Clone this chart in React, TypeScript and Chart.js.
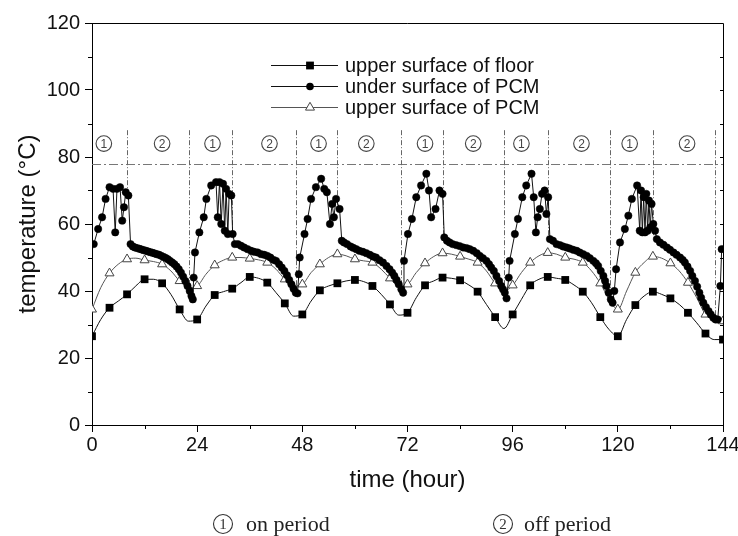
import React, { useEffect, useRef } from "react";
import { Chart, registerables } from "chart.js";

Chart.register(...registerables);

// ---------- data ----------
const xTickValues = [0, 24, 48, 72, 96, 120, 144];
const yTickValues = [0, 20, 40, 60, 80, 100, 120];
const xMinorTicks = [12, 36, 60, 84, 108, 132];
const yMinorTicks = [10, 30, 50, 70, 90, 110];

const sampleHours = [
  0, 2, 4, 6, 8, 10, 12, 14, 16, 18, 20, 22, 24, 26, 28, 30, 32, 34, 36, 38, 40, 42, 44, 46, 48,
  50, 52, 54, 56, 58, 60, 62, 64, 66, 68, 70, 72, 74, 76, 78, 80, 82, 84, 86, 88, 90, 92, 94, 96,
  98, 100, 102, 104, 106, 108, 110, 112, 114, 116, 118, 120, 122, 124, 126, 128, 130, 132, 134,
  136, 138, 140, 142, 144,
];

const floorTemps = [
  26.5, 31.5, 35, 37, 39, 41.5, 43.5, 43.5, 42.3, 39, 34.5, 31, 31.5, 35.5, 38.8, 39.8, 40.7, 42.5,
  44.2, 43.8, 42.5, 39.5, 36.3, 32.5, 33, 37, 40.2, 41.5, 42.3, 43, 43.3, 42.8, 41.5, 39, 36, 32.8,
  33.5, 38, 41.7, 43, 44, 43.8, 43.2, 41.8, 39.8, 36, 32.2, 28.8, 33, 37.5, 41.7, 43.5, 44.2, 43.8,
  43.3, 41.8, 39.8, 36.5, 32.2, 28.5, 26.5, 31.5, 35.8, 38.5, 39.8, 39, 37.8, 36, 33.5, 30.5, 27.3,
  25.5, 25.5,
];

const upperPcmTemps = [
  34.5, 41, 45.3, 48, 49.5, 49.8, 49.2, 48.8, 48, 46, 43, 41, 41.5, 45, 47.7, 49.2, 50, 50, 49.7,
  49.3, 48.5, 46.5, 43.5, 41.5, 42, 45.5, 48, 50, 51, 50.5, 49.5, 49, 48.5, 46.5, 43.8, 41.5, 42,
  45.5, 48.3, 50.3, 51.3, 51, 50.3, 49.5, 48.5, 46, 42.3, 40, 41.7, 45.5, 48.5, 50.5, 51.4, 51, 50,
  49.5, 48.5, 46, 42.3, 37.5, 34.5, 40, 45.5, 48.5, 50.3, 49.8, 48.3, 46, 42.5, 38, 33, 31.5, 31,
];

// under surface of PCM: [hour, temperature] per heating cycle
const underPcmCycle1: [number, number][] = [
  [0.4, 54], [1.4, 58.5], [2.3, 62], [3.1, 67.5], [4.0, 71], [4.8, 70.5], [5.3, 57.5], [5.7, 70.5],
  [6.4, 71], [6.9, 61], [7.3, 65], [7.7, 69.5], [8.3, 68.5], [8.8, 54],
  [9.3, 53.3], [9.8, 53], [10.3, 52.8], [10.8, 52.6], [11.3, 52.4], [11.8, 52.2], [12.3, 52],
  [12.8, 51.8], [13.3, 51.6], [13.8, 51.4], [14.3, 51.2], [14.8, 51], [15.3, 50.8], [15.8, 50.5],
  [16.3, 50.2], [16.8, 49.9], [17.3, 49.5], [17.8, 49], [18.3, 48.5], [18.8, 48], [19.3, 47.3],
  [19.8, 46.5], [20.3, 45.5], [20.8, 44.3], [21.3, 43], [21.8, 41.5], [22.3, 40], [22.7, 38.5],
  [23.0, 37.5],
];
const underPcmCycle2: [number, number][] = [
  [23.2, 44], [23.5, 51.5], [24.5, 57.5], [25.5, 62], [26.1, 67.5], [27.2, 71.5], [28.3, 72.5],
  [28.7, 62], [29.1, 72.5], [29.5, 60], [29.9, 72], [30.3, 58], [30.6, 70.5], [31.0, 57],
  [31.3, 69], [31.8, 68.5], [32.1, 57], [32.6, 54],
  [33.3, 54], [34.0, 53.5], [34.7, 53], [35.5, 52.5], [36.3, 52], [37.0, 51.7], [37.8, 51.5],
  [38.6, 51], [39.3, 50.8], [40.0, 50.5], [40.7, 50], [41.4, 49.3], [42.0, 49], [42.7, 48],
  [43.3, 47], [43.9, 46], [44.5, 44.7], [45.0, 43.3], [45.5, 42], [46.0, 40.7], [46.5, 39.5],
  [46.9, 39.3],
];
const underPcmCycle3: [number, number][] = [
  [47.2, 45], [47.4, 50], [48.5, 57], [49.2, 61.5], [50.0, 67.5], [51.1, 71], [52.3, 73.5],
  [53.0, 70.5], [53.6, 69.5], [54.3, 60], [54.8, 66], [55.2, 62], [55.7, 67.5], [56.5, 64.5],
  [57.0, 55],
  [57.5, 54.5], [58.2, 54], [59.0, 53.3], [59.6, 52.9], [60.3, 52.5], [61.0, 52], [61.8, 51.7],
  [62.6, 51.3], [63.4, 50.8], [64.1, 50.3], [64.8, 50], [65.6, 49.2], [66.4, 48.5], [67.2, 47.5],
  [67.9, 46.5], [68.5, 45.5], [69.0, 44.5], [69.5, 43.3], [70.0, 42], [70.6, 40.5], [71.0, 39.5],
];
const underPcmCycle4: [number, number][] = [
  [71.2, 49], [72.1, 57], [73.0, 61.5], [74.0, 68], [75.1, 71.5], [76.3, 75], [76.9, 70],
  [77.4, 62], [78.4, 64.5], [79.3, 70], [80.0, 69], [80.4, 56],
  [81.0, 55], [81.6, 54.5], [82.3, 54], [83.1, 53.7], [83.9, 53.4], [84.7, 53], [85.5, 52.8],
  [86.2, 52.5], [87.0, 52], [87.8, 51.3], [88.5, 50.5], [89.2, 49.8], [90.0, 49], [90.6, 48],
  [91.1, 47], [91.7, 46], [92.3, 44.5], [92.9, 43], [93.4, 41.5], [93.8, 40.5], [94.2, 39.5],
  [94.6, 37.8],
];
const underPcmCycle5: [number, number][] = [
  [95.1, 44], [95.3, 49], [96.5, 57], [97.2, 61.5], [98.2, 68], [99.1, 71.5], [100.3, 75],
  [100.8, 68], [101.3, 57.5], [101.7, 62], [102.2, 64.5], [102.7, 69], [103.3, 70], [103.7, 63],
  [104.1, 68], [104.5, 55.5],
  [105.2, 55], [106.0, 54], [106.8, 53.7], [107.5, 53.3], [108.3, 53], [109.0, 52.7],
  [109.8, 52.3], [110.6, 52], [111.3, 51.5], [112.1, 51], [112.9, 50.5], [113.6, 49.8],
  [114.4, 49], [115.0, 48.3], [115.5, 47.5], [116.1, 46], [116.7, 44.5], [117.1, 43],
  [117.4, 41.5], [117.9, 39.5], [118.4, 37.5], [118.8, 36.5],
];
const underPcmCycle6: [number, number][] = [
  [119.2, 40], [119.6, 46.5], [120.5, 54.5], [121.6, 58.5], [122.4, 62.5], [123.2, 67.5],
  [124.4, 71.5], [125.0, 58], [125.3, 70], [125.6, 57.5], [125.9, 68], [126.2, 57.5], [126.5, 69],
  [126.8, 58], [127.1, 67], [127.4, 59], [127.7, 66], [128.1, 60], [128.5, 58], [128.9, 55.5],
  [129.6, 54.5], [130.4, 53.8], [131.2, 53], [131.9, 52.3], [132.7, 51.5], [133.4, 50.8],
  [134.2, 50], [134.8, 49.3], [135.3, 48.5], [135.9, 47.3], [136.5, 46], [137.0, 44.5],
  [137.6, 43], [138.1, 41.3], [138.6, 39.5], [139.0, 38], [139.5, 36.5], [140.1, 35.2],
  [140.7, 34], [141.2, 33], [141.8, 32], [142.3, 31.5], [142.8, 31.5], [143.4, 41.5],
  [143.7, 52.5],
];

// on/off period boundaries: [hour, lower end temperature]
const periodBoundaries: [number, number][] = [
  [8, 69], [22.2, 38], [32, 57], [46.5, 40], [56, 64], [70.5, 40], [80, 56], [94, 38],
  [104, 55], [118.2, 37], [128, 56], [142.2, 32],
];
const periodLabelHours = [2.7, 16, 27.5, 40.5, 51.7, 62.6, 76, 87, 98, 111.7, 122.7, 135.8];
const periodLabelDigits = ["1", "2", "1", "2", "1", "2", "1", "2", "1", "2", "1", "2"];
const setPointTemp = 78;
const periodLabelTemp = 84;
const periodLineTopTemp = 88;

const seriesNames = ["upper surface of floor", "under surface of PCM", "upper surface of PCM"];
const noteTexts = ["on period", "off period"];
const noteDigits = ["1", "2"];

// ---------- styles ----------
const SANS = "'Liberation Sans', Arial, Helvetica, sans-serif";
const SERIF = "'Liberation Serif', 'Times New Roman', serif";
const INK = "#111";

function drawMarker(ctx: CanvasRenderingContext2D, kind: string, x: number, y: number) {
  ctx.save();
  ctx.setLineDash([]);
  if (kind === "rect") {
    ctx.fillStyle = "#000";
    ctx.fillRect(x - 3.9, y - 3.9, 7.8, 7.8);
  } else if (kind === "circle") {
    ctx.fillStyle = "#000";
    ctx.beginPath();
    ctx.arc(x, y, 3.8, 0, Math.PI * 2);
    ctx.fill();
  } else {
    const r = 5.2;
    ctx.fillStyle = "#fff";
    ctx.strokeStyle = "#444";
    ctx.lineWidth = 1;
    ctx.beginPath();
    ctx.moveTo(x, y - r);
    ctx.lineTo(x + r * 0.866, y + r * 0.5);
    ctx.lineTo(x - r * 0.866, y + r * 0.5);
    ctx.closePath();
    ctx.fill();
    ctx.stroke();
  }
  ctx.restore();
}

function drawCircled(
  ctx: CanvasRenderingContext2D,
  x: number,
  y: number,
  r: number,
  digit: string,
  font: string,
  color: string
) {
  ctx.save();
  ctx.setLineDash([]);
  ctx.strokeStyle = color;
  ctx.fillStyle = color;
  ctx.lineWidth = 1.1;
  ctx.beginPath();
  ctx.arc(x, y, r, 0, Math.PI * 2);
  ctx.stroke();
  ctx.font = font;
  ctx.textAlign = "center";
  ctx.textBaseline = "middle";
  ctx.fillText(digit, x, y + 1);
  ctx.restore();
}

const decorPlugin = {
  id: "decor",
  beforeDatasetsDraw(chart: any) {
    const { ctx, chartArea, scales } = chart;
    const xs = scales.x;
    const ys = scales.y;
    ctx.save();
    // set point dash-dot line
    ctx.strokeStyle = "#777";
    ctx.lineWidth = 1;
    ctx.setLineDash([9, 3, 2, 3]);
    const yS = Math.round(ys.getPixelForValue(setPointTemp)) + 0.5;
    ctx.beginPath();
    ctx.moveTo(chartArea.left, yS);
    ctx.lineTo(chartArea.right, yS);
    ctx.stroke();
    // period boundary lines
    ctx.strokeStyle = "#666";
    ctx.setLineDash([5, 2, 1, 2]);
    periodBoundaries.forEach(([h, low]) => {
      const px = Math.round(xs.getPixelForValue(h)) + 0.5;
      ctx.beginPath();
      ctx.moveTo(px, ys.getPixelForValue(periodLineTopTemp));
      ctx.lineTo(px, ys.getPixelForValue(low));
      ctx.stroke();
    });
    ctx.setLineDash([]);
    // circled period labels
    periodLabelHours.forEach((h, i) => {
      drawCircled(
        ctx,
        xs.getPixelForValue(h),
        ys.getPixelForValue(periodLabelTemp),
        7.8,
        periodLabelDigits[i],
        `12px ${SANS}`,
        "#444"
      );
    });
    ctx.restore();
  },
  afterDraw(chart: any) {
    const { ctx, chartArea, scales } = chart;
    const xs = scales.x;
    const ys = scales.y;
    const { left, right, top, bottom } = chartArea;
    ctx.save();
    ctx.strokeStyle = "#000";
    ctx.lineWidth = 1;
    ctx.setLineDash([]);
    // frame top + right
    ctx.beginPath();
    ctx.moveTo(left, top + 0.5);
    ctx.lineTo(right + 0.5, top + 0.5);
    ctx.lineTo(right + 0.5, bottom);
    ctx.stroke();
    // minor ticks
    ctx.beginPath();
    yMinorTicks.forEach((v) => {
      const py = Math.round(ys.getPixelForValue(v)) + 0.5;
      ctx.moveTo(left - 4, py);
      ctx.lineTo(left, py);
    });
    xMinorTicks.forEach((v) => {
      const px = Math.round(xs.getPixelForValue(v)) + 0.5;
      ctx.moveTo(px, bottom);
      ctx.lineTo(px, bottom + 4);
    });
    [...yMinorTicks, ...yTickValues].forEach((v) => {
      const py = Math.round(ys.getPixelForValue(v)) + 0.5;
      ctx.moveTo(right, py);
      ctx.lineTo(right - 3, py);
    });
    ctx.stroke();

    // legend
    const legendRows = [65, 86, 107];
    const kinds = ["rect", "circle", "triangle"];
    legendRows.forEach((y, i) => {
      ctx.strokeStyle = i === 2 ? "#555" : "#111";
      ctx.lineWidth = 1;
      ctx.beginPath();
      ctx.moveTo(271, y + 0.5);
      ctx.lineTo(338, y + 0.5);
      ctx.stroke();
      drawMarker(ctx, kinds[i], 310, y + 0.5);
      ctx.fillStyle = INK;
      ctx.font = `20px ${SANS}`;
      ctx.textAlign = "left";
      ctx.textBaseline = "middle";
      ctx.fillText(seriesNames[i], 345, y + 1);
    });

    // bottom notes
    const noteCircleX = [223, 503];
    const noteTextX = [246, 524];
    noteTexts.forEach((t, i) => {
      drawCircled(ctx, noteCircleX[i], 524, 9.5, noteDigits[i], `15px ${SERIF}`, "#333");
      ctx.fillStyle = "#222";
      ctx.textBaseline = "alphabetic";
      ctx.textAlign = "left";
      ctx.font = `22px ${SERIF}`;
      ctx.fillText(t, noteTextX[i], 531);
    });
    ctx.restore();
  },
};

export default function App() {
  const canvasRef = useRef<HTMLCanvasElement>(null);

  useEffect(() => {
    document.body.style.margin = "0";
    const canvas = canvasRef.current;
    if (!canvas) return;
    const toPts = (hours: number[], temps: number[]) => hours.map((h, i) => ({ x: h, y: temps[i] }));
    const underPcm = [
      ...underPcmCycle1,
      ...underPcmCycle2,
      ...underPcmCycle3,
      ...underPcmCycle4,
      ...underPcmCycle5,
      ...underPcmCycle6,
    ].map(([x, y]) => ({ x, y }));
    const every4 = (r: number) => (c: any) => (c.raw && c.raw.x % 4 === 0 ? r : 0);

    const chart = new Chart(canvas, {
      type: "line",
      data: {
        datasets: [
          {
            label: seriesNames[1],
            data: underPcm,
            borderColor: "#111",
            borderWidth: 1,
            pointStyle: "circle",
            pointRadius: 3.7,
            pointBackgroundColor: "#000",
            pointBorderColor: "#000",
            pointBorderWidth: 0.5,
            tension: 0,
            order: 0,
          },
          {
            label: seriesNames[0],
            data: toPts(sampleHours, floorTemps),
            borderColor: "#111",
            borderWidth: 1,
            pointStyle: "rect",
            pointRadius: every4(5.5),
            pointBackgroundColor: "#000",
            pointBorderColor: "#000",
            pointBorderWidth: 0,
            cubicInterpolationMode: "monotone",
            order: 1,
          },
          {
            label: seriesNames[2],
            data: toPts(sampleHours, upperPcmTemps),
            borderColor: "#555",
            borderWidth: 1,
            pointStyle: "triangle",
            pointRadius: every4(5.2),
            pointBackgroundColor: "#fff",
            pointBorderColor: "#444",
            pointBorderWidth: 1,
            cubicInterpolationMode: "monotone",
            order: 2,
          },
        ],
      },
      options: {
        responsive: false,
        devicePixelRatio: 1,
        animation: false,
        events: [],
        layout: { padding: { top: 23, right: 15, bottom: 0, left: 0 } },
        plugins: { legend: { display: false }, tooltip: { enabled: false }, title: { display: false } },
        scales: {
          x: {
            type: "linear",
            min: 0,
            max: 144,
            afterBuildTicks: (s: any) => {
              s.ticks = xTickValues.map((v) => ({ value: v }));
            },
            ticks: {
              autoSkip: false,
              maxRotation: 0,
              padding: 1,
              color: INK,
              font: { family: SANS, size: 20 },
              callback: (v: any) => String(v),
            },
            grid: { drawOnChartArea: false, tickLength: 7, color: "#000", tickColor: "#000" },
            border: { display: true, color: "#000", width: 1 },
            title: {
              display: true,
              text: "time (hour)",
              color: INK,
              font: { family: SANS, size: 24 },
              padding: { top: 0, bottom: 41.6 },
            },
            afterFit: (s: any) => {
              s.height = 111;
              s.paddingRight = 15;
              s.paddingLeft = 0;
            },
          },
          y: {
            type: "linear",
            min: 0,
            max: 120,
            afterBuildTicks: (s: any) => {
              s.ticks = yTickValues.map((v) => ({ value: v }));
            },
            ticks: {
              padding: 5,
              color: INK,
              font: { family: SANS, size: 20 },
              callback: (v: any) => String(v),
            },
            grid: { drawOnChartArea: false, tickLength: 7, color: "#000", tickColor: "#000" },
            border: { display: true, color: "#000", width: 1 },
            title: {
              display: true,
              text: "temperature (°C)",
              color: INK,
              font: { family: SANS, size: 24 },
              padding: { top: 13.6, bottom: 0 },
            },
            afterFit: (s: any) => {
              s.width = 92;
            },
          },
        },
      },
      plugins: [decorPlugin],
    } as any);

    return () => chart.destroy();
  }, []);

  return (
    <div style={{ width: 738, height: 536, background: "#fff" }}>
      <canvas ref={canvasRef} width={738} height={536} style={{ display: "block" }} />
    </div>
  );
}
